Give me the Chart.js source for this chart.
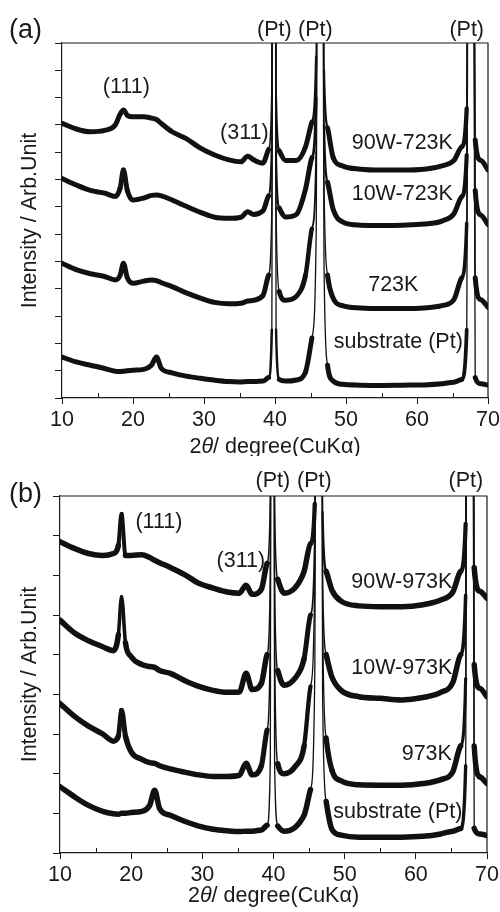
<!DOCTYPE html>
<html>
<head>
<meta charset="utf-8">
<script src="https://cdn.jsdelivr.net/npm/chart.js@4.4.0/dist/chart.umd.min.js"></script>
<style>
  html, body { margin: 0; padding: 0; background: #fff; }
  #wrap { position: relative; width: 500px; height: 912px; }
  canvas { position: absolute; left: 0; }
  #xrd_a { top: 0; }
  #xrd_b { top: 456px; }
</style>
</head>
<body>
<div id="wrap">
  <canvas id="xrd_a" width="500" height="456"></canvas>
  <canvas id="xrd_b" width="500" height="456"></canvas>
</div>
<script>
// 2theta grid shared by every pattern (degrees)
const two_theta = [10, 12, 14, 16, 17.5, 18.2, 18.65, 19.2, 20, 21.5, 22.6, 23.3,
  24, 25.5, 27.5, 29.5, 31.5, 33.5, 35.2, 36.15, 37, 38.3, 39.1, 39.55,
  39.75, 39.9, 40.15, 40.6, 41.5, 43, 44.3, 45.2, 45.8, 46.15, 46.45, 46.9,
  47.4, 48.2, 49.5, 52, 55, 58, 61, 63.5, 65.2, 66.3, 67, 67.35,
  67.65, 68.2, 69, 70];

// (a) films annealed at 723 K, offset intensities (arb. unit)
const a_90w_723k = [10.06, 9.85, 9.75, 9.8, 10.0, 10.4, 10.55, 10.35, 10.3, 10.3, 10.25, 10.2,
  10.05, 9.75, 9.5, 9.15, 8.9, 8.72, 8.65, 8.85, 8.72, 8.6, 9.1, 11.5,
  40, 40, 11, 9.05, 8.7, 8.7, 9.2, 10.1, 12.5, 40, 40, 12,
  9.9, 8.8, 8.5, 8.38, 8.35, 8.35, 8.38, 8.5, 8.7, 9.2, 10.6, 40,
  40, 9.45, 8.7, 8.35];
const a_10w_723k = [8.04, 7.8, 7.6, 7.5, 7.38, 7.7, 8.35, 7.6, 7.25, 7.32, 7.42, 7.43,
  7.4, 7.25, 7.02, 6.8, 6.62, 6.58, 6.62, 6.82, 6.72, 6.85, 7.4, 9.5,
  40, 40, 9, 6.95, 6.63, 6.72, 7.65, 8.8, 11, 40, 40, 10,
  7.9, 6.9, 6.45, 6.33, 6.32, 6.33, 6.37, 6.48, 6.75, 7.37, 8.9, 40,
  40, 7.6, 6.7, 6.35];
const a_723k = [4.93, 4.7, 4.55, 4.45, 4.32, 4.5, 4.93, 4.4, 4.2, 4.28, 4.32, 4.3,
  4.22, 4.08, 3.85, 3.66, 3.5, 3.45, 3.47, 3.55, 3.58, 3.75, 4.5, 7,
  40, 40, 7, 3.9, 3.58, 3.72, 4.5, 6.2, 9, 40, 40, 8,
  4.5, 3.65, 3.38, 3.3, 3.28, 3.28, 3.3, 3.38, 3.6, 4.4, 6.4, 40,
  40, 4.4, 3.6, 3.32];
const a_substrate = [1.5, 1.32, 1.2, 1.08, 0.98, 0.97, 0.98, 1.0, 1.02, 1.05, 1.2, 1.5,
  1.08, 0.92, 0.8, 0.72, 0.65, 0.6, 0.59, 0.6, 0.6, 0.62, 0.75, 2.5,
  40, 40, 2.5, 0.68, 0.62, 0.66, 0.95, 2.2, 6, 40, 40, 5,
  1.2, 0.62, 0.5, 0.47, 0.46, 0.47, 0.48, 0.52, 0.58, 0.68, 2.5, 40,
  40, 0.75, 0.52, 0.47];

// (b) films annealed at 973 K
const b_90w_973k = [7.85, 7.68, 7.55, 7.5, 7.55, 7.75, 8.55, 7.5, 7.5, 7.52, 7.45, 7.38,
  7.32, 7.2, 7.02, 6.8, 6.68, 6.58, 6.55, 6.75, 6.52, 6.65, 7.3, 9,
  40, 40, 9, 6.9, 6.55, 6.68, 7.1, 7.8, 8.8, 40, 40, 8.6,
  7.1, 6.63, 6.35, 6.23, 6.21, 6.21, 6.26, 6.38, 6.58, 7.1, 8.3, 40,
  40, 7.2, 6.6, 6.42];
const b_10w_973k = [5.87, 5.55, 5.35, 5.2, 5.1, 5.5, 6.46, 5.3, 4.95, 4.75, 4.7, 4.68,
  4.6, 4.53, 4.35, 4.2, 4.1, 4.05, 4.06, 4.53, 4.12, 4.28, 5.0, 7,
  40, 40, 7, 4.6, 4.23, 4.4, 4.9, 6.0, 8, 40, 40, 7,
  5.0, 4.44, 4.1, 3.94, 3.9, 3.86, 3.92, 4.05, 4.3, 5.0, 6.5, 40,
  40, 4.75, 4.15, 3.94];
const b_973k = [3.77, 3.45, 3.2, 3.0, 2.82, 2.95, 3.6, 2.95, 2.55, 2.36, 2.28, 2.26,
  2.2, 2.12, 2.04, 1.97, 1.93, 1.93, 1.96, 2.26, 1.97, 2.2, 3.1, 5.5,
  40, 40, 5.5, 2.25, 2.0, 2.17, 2.7, 4.2, 7, 40, 40, 6,
  2.9, 2.09, 1.82, 1.72, 1.71, 1.71, 1.75, 1.85, 2.05, 2.7, 4.4, 40,
  40, 2.7, 1.92, 1.75];
const b_substrate = [1.67, 1.42, 1.2, 1.05, 0.99, 0.98, 1.0, 1.0, 1.02, 1.05, 1.2, 1.58,
  1.12, 0.95, 0.8, 0.68, 0.6, 0.56, 0.54, 0.55, 0.55, 0.58, 0.7, 2.3,
  40, 40, 2.3, 0.68, 0.55, 0.64, 0.95, 1.6, 4.5, 40, 40, 4,
  1.3, 0.6, 0.45, 0.4, 0.4, 0.4, 0.42, 0.48, 0.55, 0.62, 2.2, 40,
  40, 0.62, 0.48, 0.44];

const x_ticks = [10, 20, 30, 40, 50, 60, 70];

// text placed in data coordinates: [text, 2theta, intensity]
const notes_a = [
  ['(Pt)', 39.9, 13.46], ['(Pt)', 45.68, 13.46], ['(Pt)', 67.0, 13.46],
  ['(111)', 19.06, 11.39], ['(311)', 35.68, 9.7],
  ['90W-723K', 57.93, 9.35], ['10W-723K', 57.93, 7.45],
  ['723K', 56.66, 4.13], ['substrate (Pt)', 57.37, 2.04]
];
const notes_b = [
  ['(Pt)', 39.92, 9.38], ['(Pt)', 45.74, 9.38], ['(Pt)', 67.02, 9.38],
  ['(111)', 23.9, 8.33], ['(311)', 35.42, 7.35],
  ['90W-973K', 58.03, 6.84], ['10W-973K', 58.03, 4.65],
  ['973K', 61.54, 2.49], ['substrate (Pt)', 57.47, 1.04]
];

const INK = '#1a1a1a';
const FONT = '"Liberation Sans", Arial, Helvetica, sans-serif';
const TEXT_PX = 21.5;

function panel_text(letter, letter_y, notes, title_gap) {
  return {
    id: 'panel_text',
    afterDraw(chart) {
      const ctx = chart.ctx;
      const area = chart.chartArea;
      const xs = chart.scales.x;
      const ys = chart.scales.y;
      ctx.save();

      // closing frame on top and right
      ctx.strokeStyle = INK;
      ctx.lineWidth = 1.2;
      ctx.beginPath();
      ctx.moveTo(area.left, area.top);
      ctx.lineTo(area.right, area.top);
      ctx.lineTo(area.right, area.bottom);
      ctx.stroke();

      // minor x ticks point inward
      ctx.lineWidth = 1;
      ctx.beginPath();
      for (let v = 15; v < 70; v += 10) {
        const px = Math.round(xs.getPixelForValue(v)) + 0.5;
        ctx.moveTo(px, area.bottom);
        ctx.lineTo(px, area.bottom - 5);
      }
      ctx.stroke();

      ctx.fillStyle = INK;
      ctx.textBaseline = 'middle';
      ctx.textAlign = 'center';
      ctx.font = TEXT_PX + 'px ' + FONT;
      notes.forEach(([text, x, y]) => {
        ctx.fillText(text, xs.getPixelForValue(x), ys.getPixelForValue(y));
      });

      ctx.textAlign = 'left';
      ctx.font = '27px ' + FONT;
      ctx.fillText(letter, 9, letter_y);

      // x title with an italic theta
      const parts = [['2', ''], ['\u03b8', 'italic '], ['/ degree(CuK\u03b1)', '']];
      let total = 0;
      parts.forEach(p => {
        ctx.font = p[1] + TEXT_PX + 'px ' + FONT;
        total += ctx.measureText(p[0]).width;
      });
      let cx = (area.left + area.right) / 2 - total / 2;
      const cy = area.bottom + title_gap;
      parts.forEach(p => {
        ctx.font = p[1] + TEXT_PX + 'px ' + FONT;
        ctx.fillText(p[0], cx, cy);
        cx += ctx.measureText(p[0]).width;
      });
      ctx.restore();
    }
  };
}

function make_chart(id, series, y_max, line_w, pad, y_width, x_height, plugin) {
  const datasets = series.map(values => ({
    data: two_theta.map((x, i) => ({ x: x, y: values[i] })),
    borderColor: '#111',
    borderWidth: line_w,
    borderJoinStyle: 'round',
    borderCapStyle: 'round',
    cubicInterpolationMode: 'monotone',
    pointRadius: 0,
    clip: 0,
    segment: {
      // noisy baseline is a thick band, the steep Pt reflections thin out
      borderWidth: ctx => {
        const dx = Math.max(Math.abs(ctx.p1.x - ctx.p0.x), 0.01);
        const ratio = Math.abs(ctx.p1.y - ctx.p0.y) / dx;
        const t = Math.min(Math.max((ratio - 5) / 15, 0), 1);
        return line_w - (line_w - 1.3) * t;
      }
    }
  }));

  return new Chart(document.getElementById(id), {
    type: 'line',
    data: { datasets: datasets },
    options: {
      responsive: false,
      animation: false,
      layout: { padding: pad },
      plugins: { legend: { display: false }, tooltip: { enabled: false } },
      scales: {
        x: {
          type: 'linear',
          min: 10,
          max: 70,
          afterBuildTicks: scale => {
            scale.ticks = x_ticks.map(v => ({ value: v }));
          },
          afterFit: scale => {
            scale.height = x_height;
            scale.paddingLeft = 0;
            scale.paddingRight = 0;
          },
          ticks: { color: INK, padding: 3, maxRotation: 0, font: { family: FONT, size: TEXT_PX } },
          grid: { drawOnChartArea: false, color: INK, tickLength: 6, lineWidth: 1 },
          border: { display: true, color: INK, width: 1.2 }
        },
        y: {
          min: 0,
          max: y_max,
          ticks: { display: false, stepSize: 1 },
          afterFit: scale => {
            scale.width = y_width;
            scale.paddingTop = 0;
            scale.paddingBottom = 0;
          },
          grid: { drawOnChartArea: false, color: INK, tickLength: 7, lineWidth: 1 },
          border: { display: true, color: INK, width: 1.2 },
          title: {
            display: true,
            text: 'Intensity / Arb.Unit',
            color: INK,
            padding: { top: 17, bottom: 0 },
            font: { family: FONT, size: TEXT_PX, weight: 'normal' }
          }
        }
      }
    },
    plugins: [plugin]
  });
}

make_chart('xrd_a', [a_90w_723k, a_10w_723k, a_723k, a_substrate], 13, 5,
  { top: 43, right: 12, left: 0, bottom: 0 }, 62, 58,
  panel_text('(a)', 31, notes_a, 49));

make_chart('xrd_b', [b_90w_973k, b_10w_973k, b_973k, b_substrate], 9, 5.5,
  { top: 40, right: 13, left: 0, bottom: 0 }, 60, 59,
  panel_text('(b)', 39, notes_b, 43));
</script>
</body>
</html>
